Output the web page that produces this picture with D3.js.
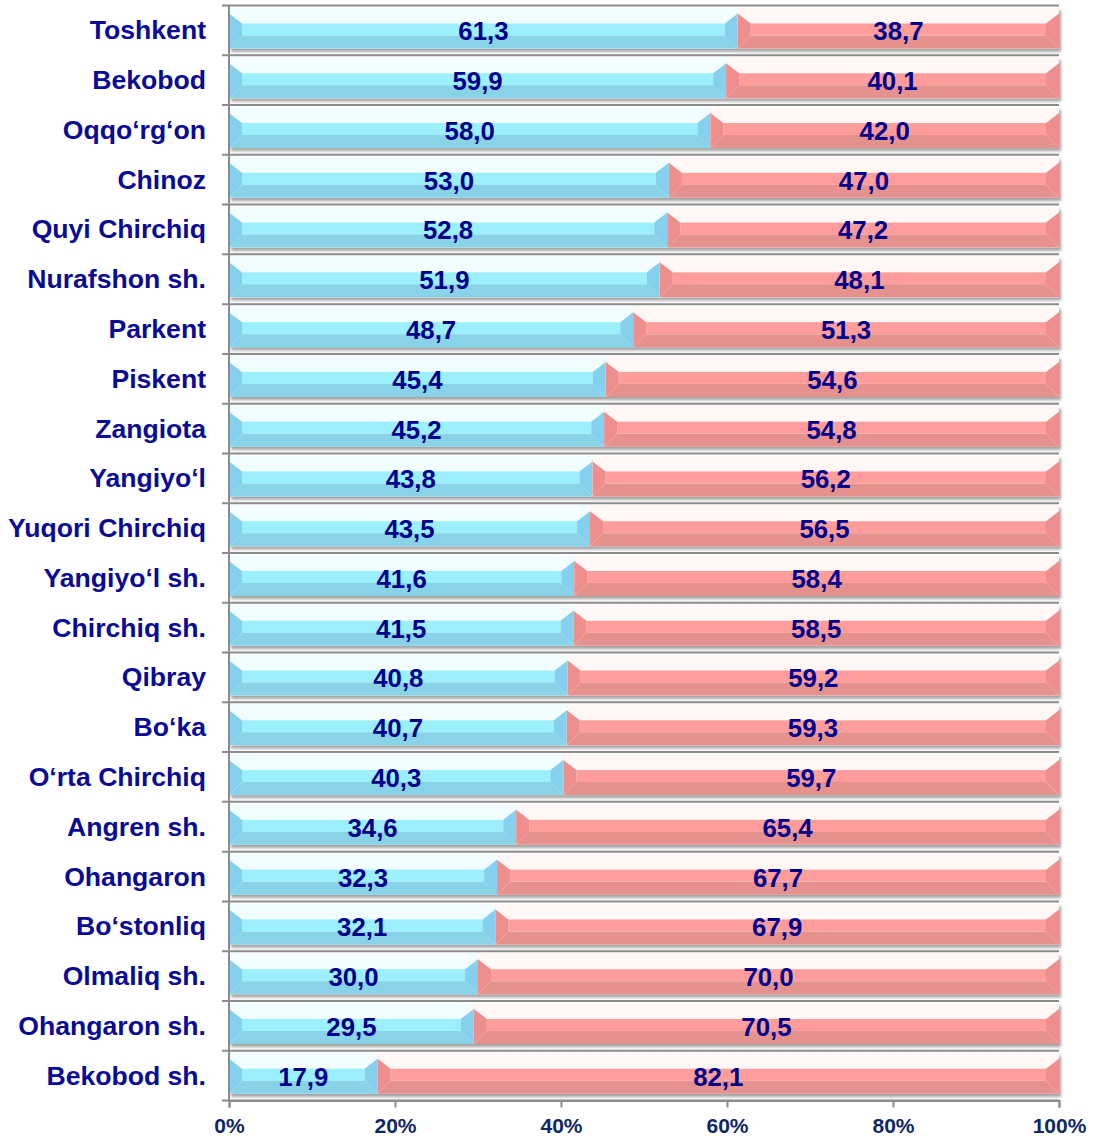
<!DOCTYPE html>
<html>
<head>
<meta charset="utf-8">
<script src="https://cdn.jsdelivr.net/npm/d3@7"></script>
<style>
  body { margin: 0; background: #fff; }
  svg { display: block; font-family: "Liberation Sans", Arial, sans-serif; }
</style>
</head>
<body>
<svg id="chart" width="1094" height="1137"></svg>
<script>
// districts, top to bottom
var categories = ["Toshkent", "Bekobod", "Oqqo‘rg‘on", "Chinoz", "Quyi Chirchiq",
  "Nurafshon sh.", "Parkent", "Piskent", "Zangiota", "Yangiyo‘l", "Yuqori Chirchiq",
  "Yangiyo‘l sh.", "Chirchiq sh.", "Qibray", "Bo‘ka", "O‘rta Chirchiq", "Angren sh.",
  "Ohangaron", "Bo‘stonliq", "Olmaliq sh.", "Ohangaron sh.", "Bekobod sh."];
var blueValues = [61.3, 59.9, 58.0, 53.0, 52.8, 51.9, 48.7, 45.4, 45.2, 43.8, 43.5,
  41.6, 41.5, 40.8, 40.7, 40.3, 34.6, 32.3, 32.1, 30.0, 29.5, 17.9];
var redValues = [38.7, 40.1, 42.0, 47.0, 47.2, 48.1, 51.3, 54.6, 54.8, 56.2, 56.5,
  58.4, 58.5, 59.2, 59.3, 59.7, 65.4, 67.7, 67.9, 70.0, 70.5, 82.1];
var xTicks = [0, 20, 40, 60, 80, 100];

var margin = { top: 5.5, right: 35, bottom: 36.5, left: 229 };
var svg = d3.select("#chart");
var W = +svg.attr("width"), H = +svg.attr("height");
var innerW = W - margin.left - margin.right;
var innerH = H - margin.top - margin.bottom;

var x = d3.scaleLinear().domain([0, 100]).range([0, innerW]);
var y = d3.scaleBand().domain(categories).range([0, innerH]);
var bw = y.bandwidth();

var fmt = function (v) { return d3.format(".1f")(v).replace(".", ","); };

var defs = svg.append("defs");
var f = defs.append("filter").attr("id", "shadow")
  .attr("x", "-5%").attr("y", "-20%").attr("width", "110%").attr("height", "150%");
f.append("feDropShadow").attr("dx", 2).attr("dy", 3).attr("stdDeviation", 1.5)
  .attr("flood-color", "#555").attr("flood-opacity", 0.55);

var g = svg.append("g").attr("transform", "translate(" + margin.left + "," + margin.top + ")");

// horizontal grid lines at band edges
var edges = d3.range(categories.length + 1).map(function (i) { return i * bw; });
g.append("g").selectAll("line").data(edges).join("line")
  .attr("x1", -7).attr("x2", innerW)
  .attr("y1", function (d) { return d; }).attr("y2", function (d) { return d; })
  .attr("stroke", "#8c8c8c").attr("stroke-width", 2);

// bevelled bar segment
var palettes = {
  blue: { top: "#f2fdff", mid: "#9cf0fd", bot: "#89d3e9", side: "#84d0ee" },
  red:  { top: "#fff8f6", mid: "#ff9d9d", bot: "#e5928e", side: "#ee8f8d" }
};
var bevel = 13;

function segment(sel, x0, x1, yt, p) {
  var h = 41, mt = yt + 16, mb = yt + 28, yb = yt + h, ap = yt + 6;
  var b = Math.min(bevel, (x1 - x0) / 2);
  var s = sel.append("g");
  s.append("rect").attr("x", x0).attr("y", yt).attr("width", x1 - x0).attr("height", h)
    .attr("fill", p.top);
  s.append("rect").attr("x", x0 + b).attr("y", mt).attr("width", x1 - x0 - 2 * b)
    .attr("height", mb - mt).attr("fill", p.mid);
  s.append("polygon").attr("fill", p.bot)
    .attr("points", [[x0, yb], [x0 + b, mb], [x1 - b, mb], [x1, yb]].join(" "));
  s.append("polygon").attr("fill", p.side)
    .attr("points", [[x0, ap], [x0 + b, mt], [x0 + b, mb], [x0, yb]].join(" "));
  s.append("polygon").attr("fill", p.side)
    .attr("points", [[x1, ap], [x1 - b, mt], [x1 - b, mb], [x1, yb]].join(" "));
}

var bars = g.append("g");
categories.forEach(function (c, i) {
  var yt = y(c) + 2;
  var row = bars.append("g").attr("filter", "url(#shadow)");
  segment(row, x(0), x(blueValues[i]), yt, palettes.blue);
  segment(row, x(blueValues[i]), x(blueValues[i] + redValues[i]), yt, palettes.red);
});

// value labels
var labels = g.append("g").attr("font-weight", "bold").attr("font-size", 25.8)
  .attr("fill", "#00008c").attr("text-anchor", "middle");
categories.forEach(function (c, i) {
  var cy = y(c) + bw / 2 + 10;
  labels.append("text").attr("x", x(blueValues[i] / 2)).attr("y", cy).text(fmt(blueValues[i]));
  labels.append("text").attr("x", x(blueValues[i] + redValues[i] / 2)).attr("y", cy)
    .text(fmt(redValues[i]));
});

// y axis line + category labels
g.append("line").attr("x1", 0).attr("x2", 0).attr("y1", 0).attr("y2", innerH)
  .attr("stroke", "#8c8c8c").attr("stroke-width", 2);
g.append("g").selectAll("text").data(categories).join("text")
  .attr("x", -23).attr("y", function (d) { return y(d) + bw / 2 + 9; })
  .attr("text-anchor", "end").attr("font-weight", "bold").attr("font-size", 26.6)
  .attr("fill", "#0a0a96").text(function (d) { return d; });

// x axis
var xAxis = g.append("g").attr("transform", "translate(0," + innerH + ")")
  .call(d3.axisBottom(x).tickValues(xTicks).tickSize(7).tickPadding(11)
    .tickFormat(function (d) { return d + "%"; }));
xAxis.select(".domain").attr("stroke", "#8c8c8c").attr("stroke-width", 2);
xAxis.selectAll(".tick line").attr("stroke", "#8c8c8c").attr("stroke-width", 2);
xAxis.selectAll(".tick text").attr("font-family", "Liberation Sans, Arial, sans-serif")
  .attr("font-size", 21).attr("font-weight", "bold").attr("fill", "#0f2766");
</script>
</body>
</html>
